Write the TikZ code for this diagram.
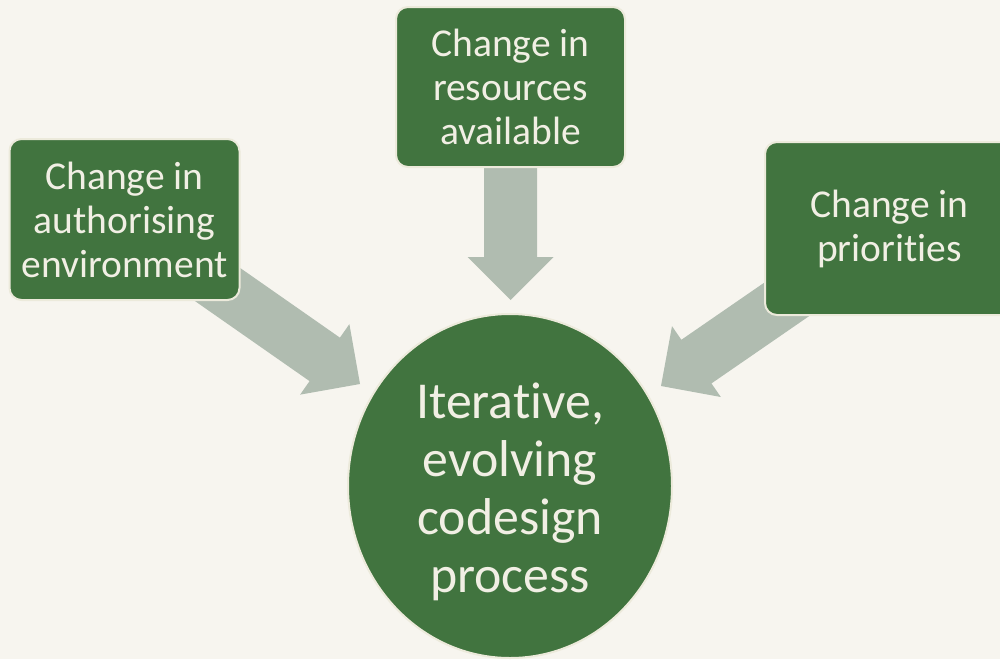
\documentclass[tikz,border=0pt]{standalone}
\usepackage{fontspec}
\setmainfont{Carlito}[RawFeature={-liga;-clig;-dlig}]
\usetikzlibrary{calc,shapes.geometric}

\definecolor{paper}{HTML}{F7F5EF}
\definecolor{leaf}{HTML}{41743F}
\definecolor{ivory}{HTML}{F1EFE4}
\definecolor{rim}{HTML}{ECEADB}
\definecolor{sage}{HTML}{B0BCB0}

% block arrow from #1 (tail) to #2 (tip): shaft 53 wide, head 86 wide, 43 long
\newcommand\fatarrow[2]{%
  \fill[sage]
    (#2)
    -- ($($(#2)!43pt!(#1)$)!43pt!90:(#2)$)
    -- ($($(#2)!43pt!(#1)$)!26.5pt!90:(#2)$)
    -- ($(#1)!26.5pt!90:(#2)$)
    -- ($(#1)!26.5pt!-90:(#2)$)
    -- ($($(#2)!43pt!(#1)$)!26.5pt!-90:(#2)$)
    -- ($($(#2)!43pt!(#1)$)!43pt!-90:(#2)$)
    -- cycle;}

\tikzset{
  changebox/.style={draw=rim, line width=2pt, fill=leaf, rounded corners=12pt,
    text=ivory, align=center, inner sep=0pt,
    font=\fontsize{39.5}{44}\selectfont},
  core/.style={ellipse, draw=rim, line width=2pt, fill=leaf, text=ivory,
    align=center, inner sep=0pt, font=\fontsize{51.8}{58}\selectfont},
}

\begin{document}
\begin{tikzpicture}[x=1pt, y=-1pt]
  \fill[paper] (0,0) rectangle (1000,659);
  \useasboundingbox (0,0) rectangle (1000,659);

  % where the arrows end
  \coordinate (tipL) at (360,384);
  \coordinate (tipT) at (510.5,300);
  \coordinate (tipR) at (661,386);

  % centres of the three change boxes
  \coordinate (auth) at (124.5,219.5);
  \coordinate (res) at (510.5,87);
  \coordinate (prio) at (889.5,228.5);

  % arrows sit behind the boxes
  \fatarrow{auth}{tipL}
  \fatarrow{res}{tipT}
  \fatarrow{prio}{tipR}

  \node[changebox, minimum width=230pt, minimum height=161pt] (authbox) at (auth)
    {Change in\\authorising\\environment};
  \node[changebox, minimum width=229pt, minimum height=160pt] (resbox) at (res)
    {Change in\\resources\\available};
  \node[changebox, minimum width=249pt, minimum height=173pt] (priobox) at (prio)
    {Change in\\priorities};

  % central process
  \node[core, minimum width=324pt, minimum height=344pt] (proc) at (510,486) {};
  \node[text=ivory, align=center, font=\fontsize{51.8}{58}\selectfont] (proclabel) at (510,492)
    {Iterative,\\evolving\\codesign\\process};
\end{tikzpicture}
\end{document}
